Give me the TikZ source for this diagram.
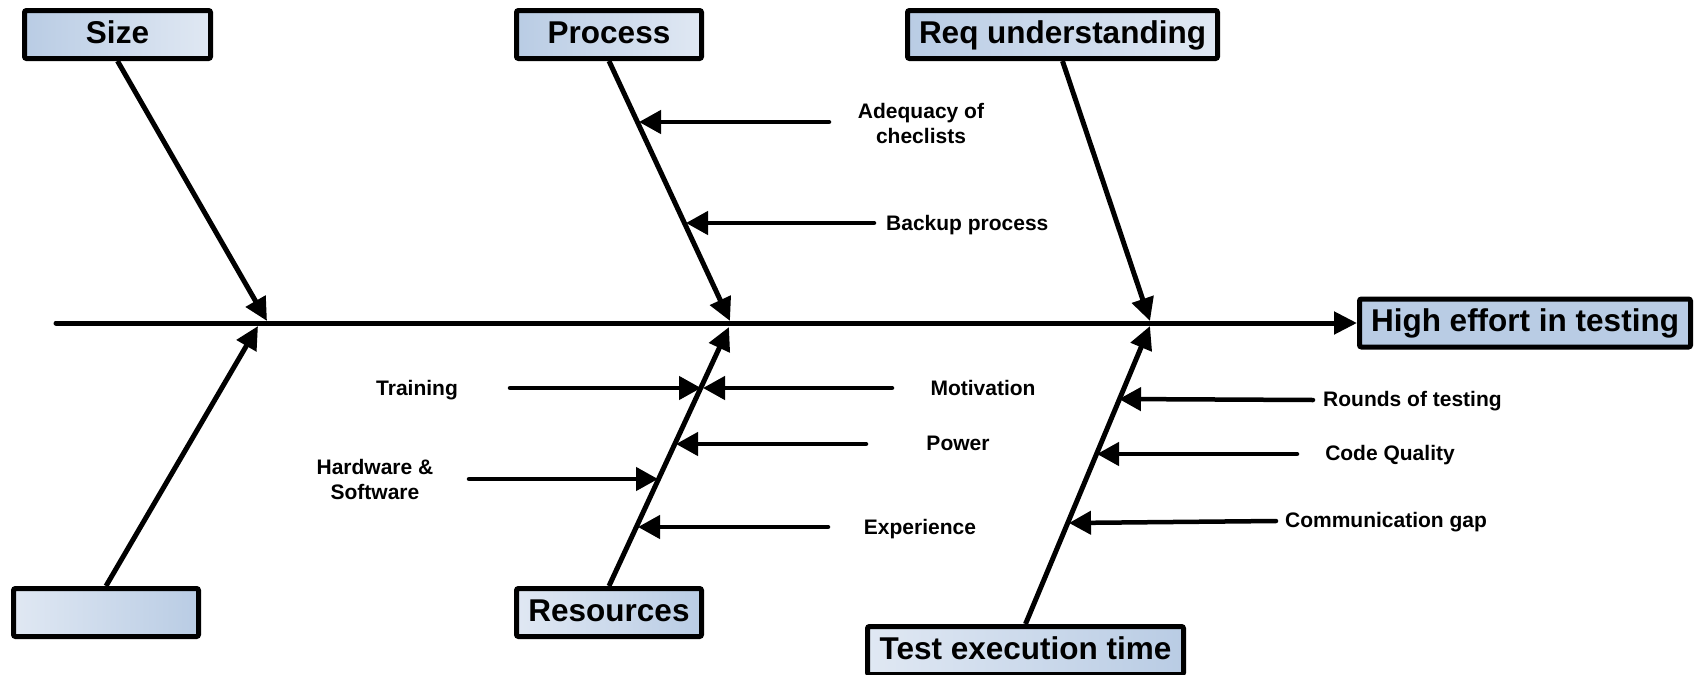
\documentclass[tikz,border=0pt]{standalone}
\usepackage{fontspec}
\setmainfont{Liberation Sans}
\usetikzlibrary{arrows.meta}

\definecolor{boxdark}{RGB}{185,204,228}
\definecolor{boxlight}{RGB}{224,232,243}

\tikzset{
  cause/.style={draw=black, line width=5pt, rounded corners=2pt,
    font=\bfseries\fontsize{31.5}{36}\selectfont, inner sep=0pt,
    text height=23pt, text depth=6pt, minimum height=48pt},
  darkleft/.style={cause, left color=boxdark, right color=boxlight},
  darkright/.style={cause, left color=boxlight, right color=boxdark},
  bone/.style={line width=5pt, -{Triangle[length=23pt,width=22pt]}},
  twig/.style={line width=4.5pt, line cap=round, -{Triangle[length=22pt,width=23pt]}},
  lbl/.style={font=\bfseries\fontsize{21}{25}\selectfont, inner sep=0pt, align=center},
  lbl1/.style={lbl, text height=15pt, text depth=0pt},
}

\begin{document}
\begin{tikzpicture}[x=1pt,y=-1pt]
\useasboundingbox (0,0) rectangle (1701,675);

% effect box and spine
\node[cause, fill=boxdark, minimum width=331pt] (effect) at (1525,323) {High effort in testing};
\coordinate (spinestart) at (56,323);
\draw[bone, line cap=round] (spinestart) -- (effect.west);

% category boxes
\node[darkleft,  minimum width=186pt] (size) at (117.5,34.5) {Size};
\node[darkleft,  minimum width=185pt] (proc) at (609,34.5) {Process};
\node[darkleft,  minimum width=310pt] (req)  at (1062.5,34.5) {Req understanding};
\node[darkright, minimum width=185pt] (blank) at (106,612.5) {};
\node[darkright, minimum width=185pt] (res)  at (609,612.5) {Resources};
\node[darkright, minimum width=316pt] (test) at (1025.5,650.5) {Test execution time};

% joints on the spine
\coordinate (jsize)  at (267,321);
\coordinate (jblank) at (258,326);
\coordinate (jproc)  at (730,321);
\coordinate (jres)   at (729,327);
\coordinate (jreq)   at (1150,321);
\coordinate (jtest)  at (1150,326);

% main bones
\draw[bone] (size.south)  -- (jsize);
\draw[bone] (blank.north) -- (jblank);
\draw[bone] (proc.south)  -- (jproc);
\draw[bone] (res.north)   -- (jres);
\draw[bone] (req.south)   -- (jreq);
\draw[bone] (test.north)  -- (jtest);

% Process causes
\node[lbl] (adeq) at (921,123) {Adequacy of\\checlists};
\coordinate (adeqT) at (829,122);  \coordinate (adeqH) at (639,122);
\draw[twig] (adeqT) -- (adeqH);
\node[lbl1, anchor=west] (backup) at (886,223) {Backup process};
\coordinate (backupT) at (874,223); \coordinate (backupH) at (686,223);
\draw[twig] (backupT) -- (backupH);

% Resources causes
\node[lbl1] (train) at (417,388) {Training};
\coordinate (trainT) at (510,388); \coordinate (trainH) at (701,388);
\draw[twig] (trainT) -- (trainH);
\node[lbl1] (motiv) at (983,388) {Motivation};
\coordinate (motivT) at (892,388); \coordinate (motivH) at (703,388);
\draw[twig] (motivT) -- (motivH);
\node[lbl1] (power) at (958,443) {Power};
\coordinate (powerT) at (866,444); \coordinate (powerH) at (676,444);
\draw[twig] (powerT) -- (powerH);
\node[lbl] (hw) at (375,479) {Hardware \&\\Software};
\coordinate (hwT) at (469,479); \coordinate (hwH) at (658,479);
\draw[twig] (hwT) -- (hwH);
\node[lbl1] (exper) at (920,527) {Experience};
\coordinate (experT) at (828,527); \coordinate (experH) at (638,527);
\draw[twig] (experT) -- (experH);

% Test execution time causes
\node[lbl1, anchor=west] (rounds) at (1323,399) {Rounds of testing};
\coordinate (roundsT) at (1313,400); \coordinate (roundsH) at (1119,399);
\draw[twig] (roundsT) -- (roundsH);
\node[lbl1] (code) at (1390,453) {Code Quality};
\coordinate (codeT) at (1297,454); \coordinate (codeH) at (1097,454);
\draw[twig] (codeT) -- (codeH);
\node[lbl1] (comm) at (1386,520) {Communication gap};
\coordinate (commT) at (1276,521); \coordinate (commH) at (1069,523);
\draw[twig] (commT) -- (commH);
\end{tikzpicture}
\end{document}
